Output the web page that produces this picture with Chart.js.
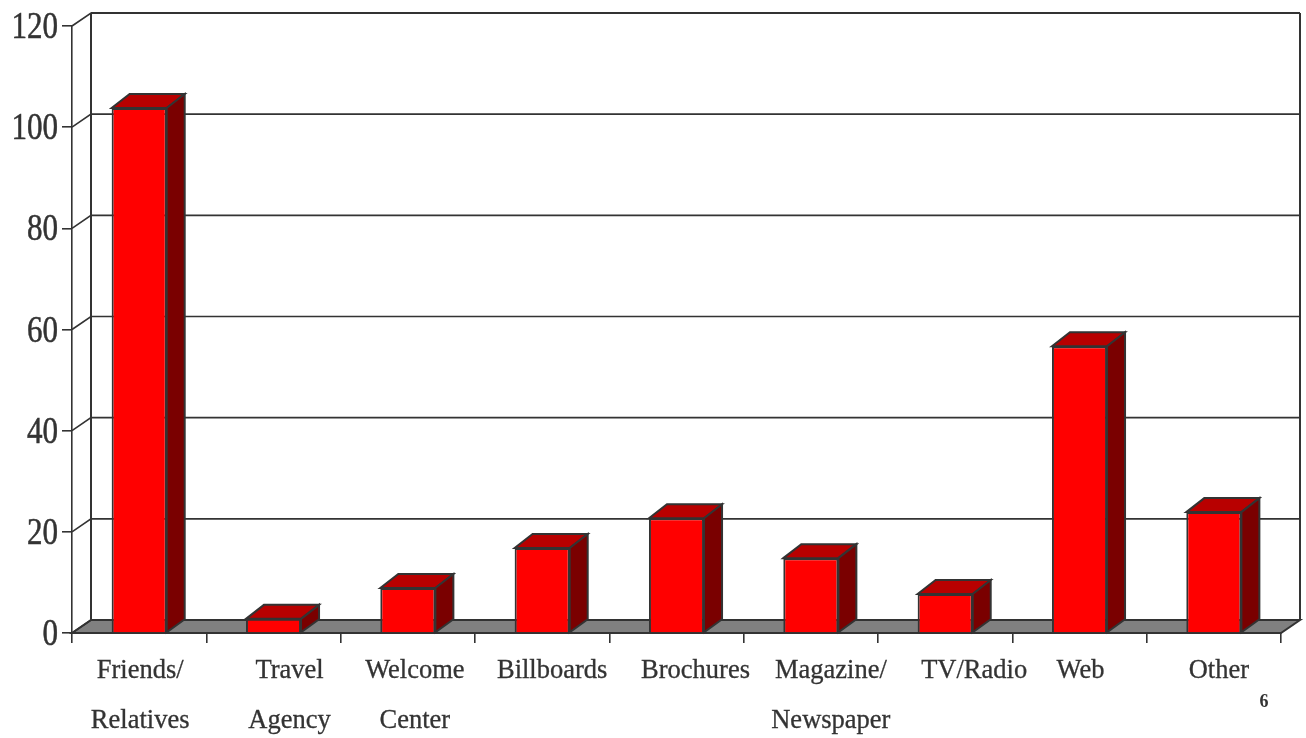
<!DOCTYPE html>
<html lang="en">

<head>
    <meta charset="UTF-8">
    <title>Sources</title>
    <style>
        * {
            margin: 0;
            padding: 0;
        }

        body {
            background: #fff;
            overflow: hidden;
        }

        canvas {
            display: block;
        }
    </style>
</head>

<body>
    <canvas id="chart" width="1306" height="738"></canvas>
    <script src="https://cdnjs.cloudflare.com/ajax/libs/Chart.js/4.4.1/chart.umd.min.js"></script>
    <script>
        var categories = [
            ["Friends/", "Relatives"], ["Travel", "Agency"], ["Welcome", "Center"],
            ["Billboards"], ["Brochures"], ["Magazine/", "Newspaper"],
            ["TV/Radio"], ["Web"], ["Other"]
        ];
        var values = [103.8, 2.8, 8.9, 16.8, 22.7, 14.8, 7.7, 56.7, 23.9];
        var pageNumber = "6";

        // the labels do not sit centred under the bars in the original
        var labelShift = [1, 16, 7, 10, 19, 20, 29, 1, 5];

        var ink = '#333333';
        var serif = "'Liberation Serif', serif";
        var wallX = 19, wallY = 13;
        var barX = 18, barTopY = 14, barBottomY = 13;

        function poly(ctx, pts, fill) {
            ctx.beginPath();
            ctx.moveTo(pts[0][0], pts[0][1]);
            for (let i = 1; i < pts.length; i++) ctx.lineTo(pts[i][0], pts[i][1]);
            ctx.closePath();
            if (fill) {
                ctx.fillStyle = fill;
                ctx.fill();
            }
            ctx.stroke();
        }

        // text with a hairline stroke, the original type is a bit heavier
        function heavyText(ctx, str, x, y, weight) {
            ctx.lineWidth = weight;
            ctx.strokeText(str, x, y);
            ctx.fillText(str, x, y);
        }

        var box3d = {
            id: 'box3d',
            beforeDatasetsDraw: function (chart) {
                var ctx = chart.ctx, a = chart.chartArea, y = chart.scales.y;
                ctx.save();
                ctx.strokeStyle = ink;
                ctx.lineWidth = 2;

                // floor
                poly(ctx, [[a.left, a.bottom], [a.left + wallX, a.bottom - wallY],
                    [a.right + wallX, a.bottom - wallY], [a.right, a.bottom]], '#808080');

                // back wall and its grid, pushed back from the value axis
                ctx.lineWidth = 1.6;
                y.ticks.forEach(function (t) {
                    var py = y.getPixelForValue(t.value);
                    ctx.beginPath();
                    ctx.moveTo(a.left, py);
                    ctx.lineTo(a.left + wallX, py - wallY);
                    ctx.lineTo(a.right + wallX, py - wallY);
                    ctx.stroke();
                });
                ctx.lineWidth = 2;
                ctx.beginPath();
                ctx.moveTo(a.left + wallX, a.top - wallY);
                ctx.lineTo(a.right + wallX, a.top - wallY);
                ctx.moveTo(a.left + wallX, a.top - wallY);
                ctx.lineTo(a.left + wallX, a.bottom - wallY);
                ctx.moveTo(a.right + wallX, a.top - wallY);
                ctx.lineTo(a.right + wallX, a.bottom - wallY);
                ctx.stroke();

                // top and side of every bar
                chart.getDatasetMeta(0).data.forEach(function (bar) {
                    var l = bar.x - bar.width / 2, r = bar.x + bar.width / 2;
                    poly(ctx, [[l, bar.y], [l + barX, bar.y - barTopY],
                        [r + barX, bar.y - barTopY], [r, bar.y]], '#b80000');
                    poly(ctx, [[r, bar.y], [r + barX, bar.y - barTopY],
                        [r + barX, bar.base - barBottomY], [r, bar.base]], '#7a0000');
                });
                ctx.restore();
            },
            afterDraw: function (chart) {
                var ctx = chart.ctx, x = chart.scales.x, y = chart.scales.y;
                ctx.save();
                ctx.fillStyle = ink;
                ctx.strokeStyle = ink;
                ctx.textAlign = 'center';
                ctx.textBaseline = 'alphabetic';
                ctx.font = "26.5px " + serif;
                categories.forEach(function (lines, i) {
                    lines.forEach(function (line, n) {
                        heavyText(ctx, line, x.getPixelForTick(i) + labelShift[i], 678 + n * 50, 0.3);
                    });
                });
                ctx.font = "bold 18px " + serif;
                ctx.fillText(pageNumber, 1264, 707);

                // value labels are taller and narrower than the plain font
                ctx.textAlign = 'right';
                ctx.font = "37px " + serif;
                y.ticks.forEach(function (t) {
                    ctx.save();
                    ctx.translate(58, y.getPixelForValue(t.value) + 12);
                    ctx.scale(0.84, 1);
                    heavyText(ctx, t.label, 0, 0, 0.5);
                    ctx.restore();
                });
                ctx.restore();
            }
        };

        var ctx = document.getElementById('chart').getContext('2d');
        var myChart = new Chart(ctx, {
            type: 'bar',
            data: {
                labels: categories,
                datasets: [{
                    data: values,
                    backgroundColor: '#ff0000',
                    borderColor: ink,
                    borderWidth: 2,
                    barPercentage: 0.41,
                    categoryPercentage: 1
                }]
            },
            plugins: [box3d],
            options: {
                responsive: false,
                animation: false,
                layout: { padding: { top: 26, right: 25 } },
                plugins: {
                    legend: { display: false },
                    tooltip: { enabled: false }
                },
                scales: {
                    x: {
                        afterFit: function (s) { s.height = 105; },
                        border: { color: ink, width: 2 },
                        grid: { drawOnChartArea: false, color: ink, lineWidth: 1.6, tickLength: 10 },
                        ticks: { display: false }
                    },
                    y: {
                        min: 0,
                        max: 120,
                        afterFit: function (s) { s.width = 72; },
                        border: { color: ink, width: 1.6 },
                        grid: { drawOnChartArea: false, color: ink, lineWidth: 1.6, tickLength: 10 },
                        ticks: {
                            stepSize: 20,
                            display: false
                        }
                    }
                }
            }
        });
    </script>
</body>

</html>
